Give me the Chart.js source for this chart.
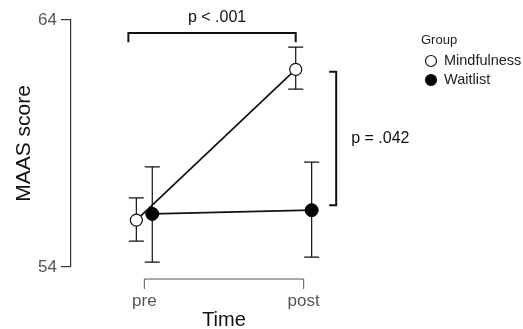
<!DOCTYPE html>
<html>
<head>
<meta charset="utf-8">
<script src="https://cdn.jsdelivr.net/npm/chart.js@4"></script>
<style>
  html, body { margin: 0; padding: 0; background: #fff; }
  #wrap { width: 523px; height: 329px; }
</style>
</head>
<body>
<div id="wrap"><canvas id="myChart"></canvas></div>
<script>
"use strict";
// data
var times = ["pre", "post"];
var groups = ["Mindfulness", "Waitlist"];
var mindMean = [55.9, 62.0];
var mindLow = [55.05, 61.2];
var mindHigh = [56.8, 62.9];
var waitMean = [56.15, 56.3];
var waitLow = [54.2, 54.4];
var waitHigh = [58.05, 58.25];
var yTicks = [54, 64];
var pTime = "p < .001";
var pGroup = "p = .042";

var FONT = "'Liberation Sans', Arial, sans-serif";
var dodge = 0.05;

function pts(means, off) {
  return means.map(function (v, i) { return { x: i + off, y: v }; });
}

var bars = [
  { low: mindLow, high: mindHigh, off: -dodge },
  { low: waitLow, high: waitHigh, off: dodge }
];

var errorBars = {
  id: "errorBars",
  beforeDatasetsDraw: function (chart) {
    var c = chart.ctx, xs = chart.scales.x, ys = chart.scales.y;
    c.save();
    c.strokeStyle = "#111";
    c.lineWidth = 1.2;
    bars.forEach(function (b) {
      b.low.forEach(function (lo, i) {
        var px = xs.getPixelForValue(i + b.off);
        var y1 = ys.getPixelForValue(lo), y2 = ys.getPixelForValue(b.high[i]);
        c.beginPath();
        c.moveTo(px, y1); c.lineTo(px, y2);
        c.moveTo(px - 7.5, y1); c.lineTo(px + 7.5, y1);
        c.moveTo(px - 7.5, y2); c.lineTo(px + 7.5, y2);
        c.stroke();
      });
    });
    c.restore();
  }
};

var extras = {
  id: "extras",
  afterDraw: function (chart) {
    var c = chart.ctx, xs = chart.scales.x, ys = chart.scales.y;
    c.save();
    // x axis bracket (pre .. post)
    var x0 = xs.getPixelForValue(0), x1 = xs.getPixelForValue(1);
    var yb = chart.chartArea.bottom;
    c.strokeStyle = "#555";
    c.lineWidth = 1;
    c.beginPath();
    c.moveTo(x0, yb + 22); c.lineTo(x0, yb + 12); c.lineTo(x1, yb + 12); c.lineTo(x1, yb + 22);
    c.stroke();

    // significance brackets
    c.strokeStyle = "#111";
    c.lineWidth = 2;
    var bx0 = xs.getPixelForValue(-0.1), bx1 = xs.getPixelForValue(1 - dodge);
    var by = ys.getPixelForValue(63.47), byt = ys.getPixelForValue(63.1);
    c.beginPath();
    c.moveTo(bx0, byt); c.lineTo(bx0, by); c.lineTo(bx1, by); c.lineTo(bx1, byt);
    c.stroke();
    var rx = xs.getPixelForValue(1.204), rxs = xs.getPixelForValue(1.16);
    var ry0 = ys.getPixelForValue(61.9), ry1 = ys.getPixelForValue(56.5);
    c.beginPath();
    c.moveTo(rxs, ry0); c.lineTo(rx, ry0); c.lineTo(rx, ry1); c.lineTo(rxs, ry1);
    c.stroke();

    c.fillStyle = "#111";
    c.font = "16px " + FONT;
    c.textBaseline = "middle";
    c.textAlign = "center";
    c.fillText(pTime, (bx0 + bx1) / 2 + 5, 18);
    c.textAlign = "left";
    c.fillText(pGroup, rx + 15, (ry0 + ry1) / 2);

    // legend
    c.fillStyle = "#222";
    c.font = "13px " + FONT;
    c.fillText("Group", 421, 40);
    c.font = "14.5px " + FONT;
    chart.data.datasets.forEach(function (ds, i) {
      var cy = 61 + i * 19;
      c.beginPath();
      c.arc(431, cy, 5.5, 0, Math.PI * 2);
      c.fillStyle = ds.pointBackgroundColor;
      c.fill();
      c.lineWidth = 1.2;
      c.strokeStyle = "#111";
      c.stroke();
      c.fillStyle = "#222";
      c.fillText(ds.label, 444, cy);
    });
    c.restore();
  }
};

var ctx = document.getElementById("myChart");
new Chart(ctx, {
  type: "line",
  data: {
    datasets: [
      {
        label: groups[0],
        data: pts(mindMean, -dodge),
        borderColor: "#111",
        borderWidth: 1.7,
        pointStyle: "circle",
        pointRadius: 6,
        pointBorderWidth: 1.2,
        pointBorderColor: "#111",
        pointBackgroundColor: "#fff"
      },
      {
        label: groups[1],
        data: pts(waitMean, dodge),
        borderColor: "#111",
        borderWidth: 1.7,
        pointStyle: "circle",
        pointRadius: 6.5,
        pointBorderWidth: 1,
        pointBorderColor: "#000",
        pointBackgroundColor: "#000"
      }
    ]
  },
  options: {
    responsive: true,
    maintainAspectRatio: false,
    animation: false,
    layout: { padding: { top: 20, right: 146, bottom: 0, left: 0 } },
    plugins: { legend: { display: false }, tooltip: { enabled: false } },
    scales: {
      x: {
        type: "linear",
        min: -0.46,
        max: 1.46,
        afterFit: function (s) { s.height = 62; },
        afterBuildTicks: function (s) {
          s.ticks = times.map(function (t, i) { return { value: i }; });
        },
        ticks: {
          padding: 24,
          color: "#555",
          font: { family: FONT, size: 17 },
          callback: function (v) { return times[v]; }
        },
        grid: { display: false, drawTicks: false },
        border: { display: false },
        title: {
          display: true,
          text: "Time",
          color: "#111",
          font: { family: FONT, size: 20 },
          padding: { top: 0, bottom: -3 }
        }
      },
      y: {
        min: 54,
        max: 64,
        afterFit: function (s) { s.width = 71; },
        afterBuildTicks: function (s) {
          s.ticks = yTicks.map(function (v) { return { value: v }; });
        },
        ticks: {
          padding: 4,
          color: "#555",
          font: { family: FONT, size: 17 }
        },
        grid: { display: true, drawOnChartArea: false, drawTicks: true, tickLength: 10, color: "#333", lineWidth: 1.2 },
        border: { display: true, color: "#333", width: 1.2 },
        title: {
          display: true,
          text: "MAAS score",
          color: "#111",
          font: { family: FONT, size: 21 },
          padding: { top: 12, bottom: 0 }
        }
      }
    }
  },
  plugins: [errorBars, extras]
});
</script>
</body>
</html>
